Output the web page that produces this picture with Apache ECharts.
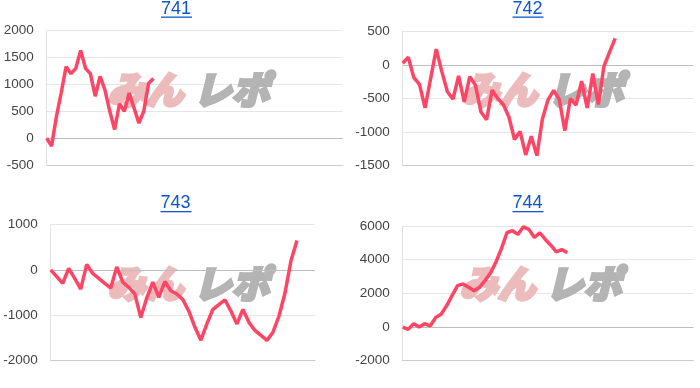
<!DOCTYPE html>
<html>
<head>
<meta charset="utf-8">
<script src="https://cdn.jsdelivr.net/npm/echarts@6/dist/echarts.min.js"></script>
<style>html,body{margin:0;padding:0;background:#fff}#c{width:700px;height:388px}</style>
</head>
<body>
<div id="c"></div>
<script>
// ---- data ----
const titles = ['741', '742', '743', '744'];
const catCounts = [62, 53, 45, 54];
const values741 = [0, -150, 400, 850, 1330, 1200, 1300, 1630, 1300, 1200, 780, 1150, 900, 500, 160, 640, 500, 840, 560, 280, 500, 1020, 1110];
const values742 = [25, 115, -190, -290, -640, -200, 235, -100, -400, -510, -165, -550, -175, -300, -700, -815, -375, -500, -590, -775, -1110, -990, -1340, -1060, -1350, -800, -520, -380, -510, -980, -500, -600, -240, -640, -130, -590, -20, 190, 395];
const values743 = [0, -150, -300, 30, -190, -430, 120, -80, -190, -300, -405, 65, -275, -390, -535, -1060, -620, -275, -610, -260, -465, -535, -660, -915, -1270, -1560, -1200, -875, -770, -665, -915, -1200, -880, -1165, -1345, -1455, -1565, -1385, -1025, -520, 200, 650];
const values744 = [0, -140, 200, 0, 200, 60, 560, 760, 1260, 1860, 2460, 2560, 2360, 2160, 2360, 2760, 3200, 3860, 4660, 5600, 5720, 5500, 5950, 5800, 5320, 5600, 5200, 4860, 4460, 4600, 4420];
const yMins = [-500, -1500, -2000, -2000];
const yMaxs = [2000, 500, 1000, 6000];
const yIntervals = [500, 500, 1000, 2000];
const allValues = [values741, values742, values743, values744];

// ---- layout ----
const grids = [
  {left: 46.7, top: 30.7, width: 296, height: 134.3},
  {left: 402.7, top: 31.3, width: 290.7, height: 134.4},
  {left: 50.7, top: 224.7, width: 264.3, height: 135.3},
  {left: 402.7, top: 226, width: 290.7, height: 134.7}
];
const titlePos = [
  {cx: 176.5, top: 0},
  {cx: 528, top: 0},
  {cx: 176, top: 194.5},
  {cx: 528, top: 194.5}
];
const wmPos = [
  {x: 106, y: 69}, {x: 460, y: 69}, {x: 106, y: 263}, {x: 458, y: 263}
];

const FONT = 'Arial, "Liberation Sans", sans-serif';
const LINE_COLOR = '#ff4565';
const WM_FONT = 'italic 900 38px "Noto Sans CJK JP"';
const WM_PINK = '#ecbcbc';
const WM_GRAY = '#b4b4b4';

const chart = echarts.init(document.getElementById('c'), null, {renderer: 'canvas'});

const graphic = [];
titles.forEach((t, i) => {
  const p = titlePos[i];
  graphic.push({
    type: 'text', left: p.cx - 15.5, top: p.top, z: 10,
    style: {text: t, fill: '#1155cc', font: '18px ' + FONT}
  });
  graphic.push({
    type: 'rect', left: p.cx - 15.5, top: p.top + 16.5, z: 10,
    shape: {width: 31, height: 1.3}, style: {fill: '#1155cc'}
  });
  const w = wmPos[i];
  graphic.push({
    type: 'text', left: w.x, top: w.y, z: 1,
    style: {text: 'みん', fill: WM_PINK, stroke: WM_PINK, lineWidth: 3, font: WM_FONT}
  });
  graphic.push({
    type: 'text', left: w.x + 86, top: w.y, z: 1,
    style: {text: 'レポ', fill: WM_GRAY, stroke: WM_GRAY, lineWidth: 3, font: WM_FONT}
  });
});

const option = {
  animation: false,
  backgroundColor: '#fff',
  grid: grids.map(g => Object.assign({containLabel: false}, g)),
  xAxis: catCounts.map((n, i) => ({
    type: 'category', gridIndex: i, boundaryGap: false,
    data: Array.from({length: n}, (_, k) => String(k + 1)),
    axisLabel: {show: false}, axisTick: {show: false},
    axisLine: {show: true, onZero: false, lineStyle: {color: '#cccccc', width: 1}},
    splitLine: {show: false}
  })),
  yAxis: yMins.map((mn, i) => ({
    type: 'value', gridIndex: i, min: mn, max: yMaxs[i], interval: yIntervals[i],
    axisLine: {show: true, lineStyle: {color: '#e2e2e2'}},
    axisTick: {show: false},
    axisLabel: {color: '#444', fontSize: 13.5, fontFamily: FONT, margin: 13, formatter: v => String(v)},
    splitLine: {show: true, lineStyle: {color: '#e6e6e6', width: 1}}
  })),
  graphic: graphic,
  series: allValues.map((vals, i) => ({
    type: 'line', xAxisIndex: i, yAxisIndex: i, data: vals,
    showSymbol: false, symbol: 'none', z: 5,
    lineStyle: {color: LINE_COLOR, width: 3.5},
    markLine: {
      silent: true, symbol: 'none', label: {show: false}, z: 2,
      lineStyle: {color: '#bdbdbd', width: 1, type: 'solid'},
      data: [{yAxis: 0}]
    }
  }))
};
chart.setOption(option);
</script>
</body>
</html>
